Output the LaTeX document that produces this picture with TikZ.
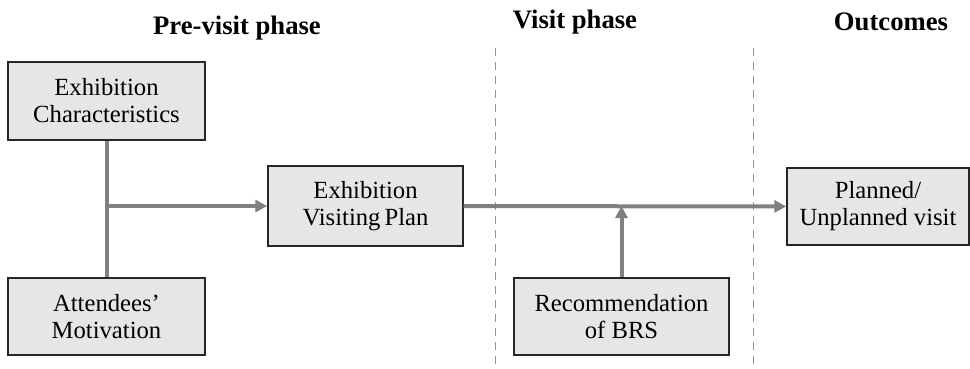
\documentclass[tikz,border=0pt]{standalone}
\usepackage{fontspec}
\setmainfont{Liberation Serif}
\usetikzlibrary{arrows.meta,positioning}
\definecolor{boxfill}{RGB}{230,230,230}
\definecolor{flowgray}{RGB}{128,128,128}
\definecolor{divgray}{RGB}{150,150,150}
\tikzset{
  pbox/.style={draw=black!85, fill=boxfill, line width=1.1pt, align=center,
               font=\fontsize{18.5}{20.25}\selectfont, inner sep=0pt},
  flow/.style={draw=flowgray, line width=3pt},
  flowarr/.style={flow, -{Triangle[length=9pt,width=9pt]}},
  divider/.style={divgray, line width=0.6pt, dash pattern=on 6pt off 4.5pt},
  phase/.style={font=\fontsize{20}{24}\selectfont\bfseries},
}

\begin{document}
\begin{tikzpicture}[x=0.75pt,y=-0.75pt]
  \useasboundingbox (0,0) rectangle (970,368);
  % --- phase headings ---
  \node[phase] (hpre) at (237,28) {Pre-visit phase};
  \node[phase] (hvis) at (575,22) {Visit phase};
  \node[phase] (hout) at (891,22) {Outcomes};
  % --- dividers ---
  \coordinate (d1t) at (495,48); \coordinate (d1b) at (495,368);
  \coordinate (d2t) at (753,48); \coordinate (d2b) at (753,368);
  \draw[divider] (d1t) -- (d1b);
  \draw[divider] (d2t) -- (d2b);
  % --- boxes ---
  \node[pbox, minimum width=147.75pt, minimum height=58.5pt] (char) at (106.5,101)
    {Exhibition\\Characteristics};
  \node[pbox, minimum width=147.75pt, minimum height=57.75pt] (motiv) at (106.5,316.5)
    {Attendees'\\Motivation};
  \node[pbox, minimum width=146.25pt, minimum height=60pt] (plan) at (365.5,206)
    {Exhibition\\Visiting\,Plan};
  \node[pbox, minimum width=136.5pt, minimum height=57.75pt] (visit) at (878,206.5)
    {Planned/\\Unplanned visit};
  \node[pbox, minimum width=161.25pt, minimum height=57.75pt] (brs) at (621.5,316.5)
    {Recommendation\\of BRS};
  % --- connectors ---
  \coordinate (join) at (char.south |- plan.west);
  \draw[flow] (char) -- (motiv);
  \draw[flowarr] (join) -- (plan);
  \draw[flowarr] (plan) -- (visit);
  \draw[flowarr] (brs) -- (brs.north |- plan.east);
\end{tikzpicture}
\end{document}
